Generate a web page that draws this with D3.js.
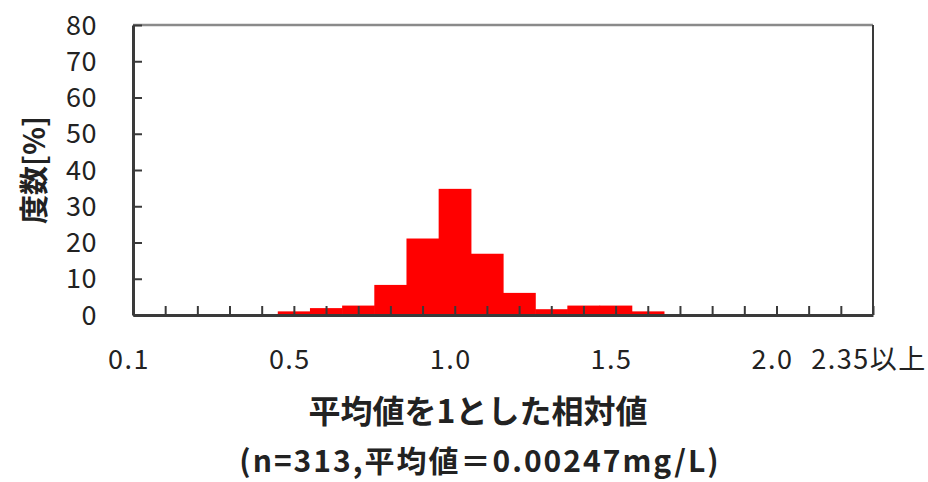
<!DOCTYPE html>
<html>
<head>
<meta charset="utf-8">
<script src="https://cdn.jsdelivr.net/npm/d3@7"></script>
<style>
  html, body { margin: 0; padding: 0; background: #fff; }
  svg { display: block; }
  text { font-family: "Noto Sans CJK JP", "Noto Sans", sans-serif; fill: #222; }
</style>
</head>
<body>
<svg id="chart" width="928" height="482"></svg>
<script>
// Histogram of relative values (mean = 1), 23 class intervals
const binIndex = [0, 1, 2, 3, 4, 5, 6, 7, 8, 9, 10, 11, 12, 13, 14, 15, 16, 17, 18, 19, 20, 21, 22, 23];
const percent  = [0, 0, 0, 0, 0, 1.0, 1.9, 2.6, 8.3, 21.1, 34.8, 16.9, 6.1, 1.6, 2.6, 2.6, 1.0, 0, 0, 0, 0, 0, 0, 0];

const xTickIndex  = [0, 5, 10, 15, 20, 23];
const xTickLabels = ["0.1", "0.5", "1.0", "1.5", "2.0", "2.35以上"];
const yTicks = [0, 10, 20, 30, 40, 50, 60, 70, 80];

const yTitle = "度数[%]";
const xTitle = "平均値を1とした相対値";
const xSubTitle = "(n=313,平均値＝0.00247mg/L)";

const svg = d3.select("#chart");
const plotLeft = 133, plotRight = 873, plotTop = 25, plotBottom = 315;

const x = d3.scaleLinear().domain([0, 23]).range([plotLeft, plotRight]);
const y = d3.scaleLinear().domain([0, 80]).range([plotBottom, plotTop]);
const step = x(1) - x(0);

// bars, centred on the class marks (slight overlap avoids seams)
svg.append("g")
  .selectAll("rect")
  .data(binIndex.map((b, i) => ({ b, v: percent[i] })).filter(d => d.v > 0))
  .join("rect")
  .attr("x", d => x(d.b) - step / 2)
  .attr("width", step + 0.6)
  .attr("y", d => y(d.v))
  .attr("height", d => y(0) - y(d.v))
  .attr("fill", "#ff0000");

// frame: top and right edges
svg.append("line")
  .attr("x1", plotLeft).attr("x2", plotRight).attr("y1", plotTop).attr("y2", plotTop)
  .attr("stroke", "#8a8a8a").attr("stroke-width", 2.5);
svg.append("line")
  .attr("x1", plotRight).attr("x2", plotRight).attr("y1", plotTop).attr("y2", plotBottom)
  .attr("stroke", "#3a3a3a").attr("stroke-width", 2);

// y axis with inward ticks
const yAxis = d3.axisLeft(y).tickValues(yTicks).tickSize(-9).tickPadding(36).tickSizeOuter(0);
const gy = svg.append("g").attr("transform", `translate(${plotLeft},0)`).call(yAxis);
gy.select(".domain").attr("stroke", "#3a3a3a").attr("stroke-width", 3);
gy.selectAll(".tick line").attr("stroke", "#3a3a3a").attr("stroke-width", 2);
gy.selectAll(".tick text")
  .attr("font-size", 27).attr("fill", "#222")
  .attr("letter-spacing", 0.5)
  .attr("font-family", "'Noto Sans CJK JP', sans-serif")
  .attr("dy", "0.34em");

// x axis: inward ticks at every class mark
const xAxis = d3.axisBottom(x).tickValues(binIndex).tickSize(-9).tickSizeOuter(0).tickFormat("");
const gx = svg.append("g").attr("transform", `translate(0,${plotBottom})`).call(xAxis);
gx.select(".domain").attr("stroke", "#3a3a3a").attr("stroke-width", 3);
gx.selectAll(".tick line").attr("stroke", "#3a3a3a").attr("stroke-width", 2);

// x tick labels
svg.append("g")
  .selectAll("text")
  .data(xTickIndex.map((b, i) => ({ b, label: xTickLabels[i] })))
  .join("text")
  .attr("x", d => x(d.b) - 4)
  .attr("y", 360)
  .attr("dy", "0.34em")
  .attr("text-anchor", "middle")
  .attr("font-size", 27)
  .attr("letter-spacing", 1.5)
  .text(d => d.label);

// axis titles
svg.append("text")
  .attr("transform", "translate(35,170) rotate(-90)")
  .attr("text-anchor", "middle")
  .attr("dy", "0.35em")
  .attr("font-size", 29)
  .attr("font-weight", "bold")
  .text(yTitle);

svg.append("text")
  .attr("x", 478).attr("y", 412)
  .attr("dy", "0.35em")
  .attr("text-anchor", "middle")
  .attr("font-size", 32)
  .attr("font-weight", "bold")
  .text(xTitle);

svg.append("text")
  .attr("x", 480).attr("y", 461)
  .attr("dy", "0.35em")
  .attr("text-anchor", "middle")
  .attr("font-size", 30)
  .attr("font-weight", "bold")
  .attr("letter-spacing", 2)
  .text(xSubTitle);
</script>
</body>
</html>
